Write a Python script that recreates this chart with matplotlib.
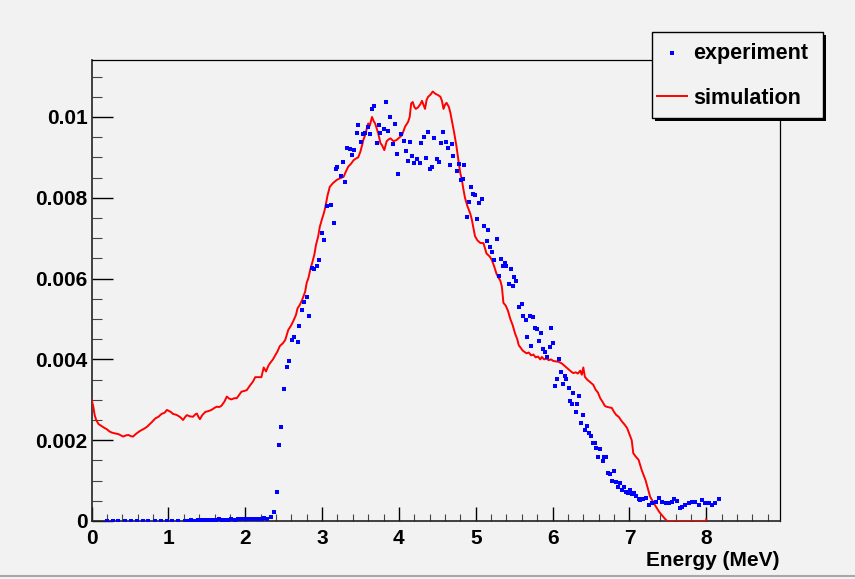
import matplotlib
matplotlib.use("Agg")
import matplotlib.pyplot as plt
from matplotlib.patches import Rectangle
from matplotlib.lines import Line2D
from matplotlib.ticker import MultipleLocator

plt.rcParams['font.family'] = ['Liberation Sans', 'DejaVu Sans']
plt.rcParams['font.weight'] = 'bold'

# Measured spectrum (normalised counts per bin)
exp_energy = [
    0.20, 0.28, 0.35, 0.43, 0.51, 0.59, 0.67, 0.74, 0.82, 0.90, 0.98, 1.05, 1.13, 1.21,
    1.26, 1.30, 1.34, 1.38, 1.42, 1.46, 1.50, 1.54, 1.58, 1.62, 1.66, 1.70, 1.74, 1.78,
    1.82, 1.86, 1.90, 1.94, 1.98, 2.02, 2.06, 2.10, 2.14, 2.18, 2.22, 2.25,
    2.28, 2.33, 2.37, 2.41, 2.44, 2.47, 2.51, 2.54, 2.57, 2.61, 2.64, 2.68, 2.70, 2.74,
    2.77, 2.81, 2.83, 2.87, 2.90, 2.94, 2.96, 3.00, 3.03, 3.07, 3.11, 3.15, 3.18, 3.20,
    3.24, 3.27, 3.30, 3.33, 3.36, 3.39, 3.42, 3.45, 3.47, 3.51, 3.53, 3.56, 3.60, 3.63,
    3.65, 3.68, 3.71, 3.74, 3.76, 3.81, 3.83, 3.86, 3.88, 3.92, 3.95, 3.97, 3.99, 4.03,
    4.06, 4.09, 4.12, 4.15, 4.17, 4.20, 4.24, 4.27, 4.29, 4.32, 4.35, 4.38, 4.41, 4.43,
    4.46, 4.49, 4.52, 4.55, 4.57, 4.61, 4.64, 4.66, 4.69, 4.71, 4.75, 4.78, 4.81, 4.83,
    4.85, 4.89, 4.91, 4.94, 4.97, 4.99, 5.02, 5.04, 5.08, 5.11, 5.14, 5.16, 5.19, 5.21,
    5.24, 5.28, 5.30, 5.33, 5.35, 5.38, 5.40, 5.43, 5.46, 5.48, 5.50, 5.53, 5.56, 5.60,
    5.62, 5.65, 5.67, 5.70, 5.72, 5.75, 5.77, 5.80, 5.82, 5.85, 5.87, 5.90, 5.93, 5.96,
    5.98, 6.00, 6.03, 6.06, 6.08, 6.11, 6.13, 6.16, 6.18, 6.21, 6.23, 6.25, 6.27, 6.30,
    6.32, 6.35, 6.37, 6.40, 6.42, 6.45, 6.47, 6.50, 6.53, 6.55, 6.57, 6.59, 6.62, 6.65,
    6.67, 6.70, 6.72, 6.75, 6.77, 6.80, 6.82, 6.85, 6.88, 6.90, 6.93, 6.95, 6.98, 7.01,
    7.03, 7.06, 7.09, 7.12, 7.14, 7.18, 7.22, 7.25, 7.29, 7.34, 7.38, 7.42, 7.47, 7.51,
    7.55, 7.58, 7.62, 7.66, 7.68, 7.73, 7.77, 7.81, 7.85, 7.90, 7.94, 7.98, 8.03, 8.07,
    8.12, 8.16,
]
exp_counts = [
    0.0, 0.0, 0.0, 0.0, 0.0, 0.0, 0.0, 0.0, 0.0, 0.0, 0.0, 0.0, 0.0, 0.0,
    0.00001, 0.00002, 0.00001, 0.00002, 0.00003, 0.00002, 0.00002, 0.00003, 0.00002,
    0.00003, 0.00004, 0.00003, 0.00002, 0.00003, 0.00004, 0.00003, 0.00004, 0.00005,
    0.00004, 0.00005, 0.00004, 0.00005, 0.00006, 0.00005, 0.00006, 0.00007,
    0.00004, 0.00010, 0.00022, 0.00072, 0.00188, 0.00233, 0.00326, 0.00382, 0.00396,
    0.00448, 0.00455, 0.00443, 0.00483, 0.00522, 0.00542, 0.00554, 0.00508, 0.00627,
    0.00624, 0.00632, 0.00646, 0.00714, 0.00695, 0.00780, 0.00782, 0.00737, 0.00872,
    0.00877, 0.00855, 0.00889, 0.00840, 0.00922, 0.00920, 0.00907, 0.00918, 0.00960,
    0.00980, 0.00937, 0.00957, 0.00960, 0.00974, 0.00957, 0.01019, 0.01028, 0.00935,
    0.00980, 0.00961, 0.00970, 0.01037, 0.00966, 0.01000, 0.00933, 0.00982, 0.00909,
    0.00860, 0.00958, 0.00940, 0.00916, 0.00892, 0.00938, 0.00904, 0.00885, 0.00896,
    0.00885, 0.00936, 0.00950, 0.00899, 0.00964, 0.00870, 0.00877, 0.00947, 0.00896,
    0.00888, 0.00936, 0.00962, 0.00937, 0.00924, 0.00880, 0.00933, 0.00904, 0.00867,
    0.00884, 0.00843, 0.00846, 0.00880, 0.00753, 0.00790, 0.00826, 0.00809, 0.00807,
    0.00748, 0.00787, 0.00797, 0.00731, 0.00692, 0.00720, 0.00678, 0.00667, 0.00646,
    0.00698, 0.00607, 0.00649, 0.00631, 0.00639, 0.00632, 0.00586, 0.00624, 0.00581,
    0.00603, 0.00595, 0.00530, 0.00538, 0.00507, 0.00497, 0.00455, 0.00507, 0.00433,
    0.00506, 0.00478, 0.00475, 0.00446, 0.00465, 0.00425, 0.00418, 0.00407, 0.00430,
    0.00477, 0.00441, 0.00335, 0.00351, 0.00402, 0.00370, 0.00340, 0.00360, 0.00351,
    0.00328, 0.00297, 0.00290, 0.00316, 0.00270, 0.00290, 0.00309, 0.00243, 0.00263,
    0.00224, 0.00236, 0.00218, 0.00210, 0.00192, 0.00192, 0.00180, 0.00158, 0.00177,
    0.00148, 0.00158, 0.00159, 0.00120, 0.00116, 0.00100, 0.00124, 0.00096, 0.00085,
    0.00093, 0.00076, 0.00085, 0.00073, 0.00070, 0.00077, 0.00066, 0.00069, 0.00062,
    0.00054, 0.00052, 0.00054, 0.00056, 0.00040, 0.00044, 0.00048, 0.00056, 0.00048,
    0.00044, 0.00044, 0.00048, 0.00054, 0.00050, 0.00031, 0.00035, 0.00040, 0.00044,
    0.00048, 0.00048, 0.00040, 0.00052, 0.00044, 0.00044, 0.00040, 0.00044, 0.00054,
]

# Simulated spectrum
sim_energy = [
    0.00, 0.02, 0.04, 0.06, 0.09, 0.13, 0.17, 0.20, 0.23, 0.26, 0.30, 0.35, 0.38, 0.41,
    0.45, 0.48, 0.51, 0.54, 0.58, 0.63, 0.68, 0.72, 0.78, 0.83, 0.87, 0.91, 0.95, 0.98,
    1.00, 1.03, 1.06, 1.10, 1.13, 1.16, 1.19, 1.22, 1.24, 1.28, 1.32, 1.35, 1.37, 1.39,
    1.41, 1.44, 1.48, 1.52, 1.56, 1.60, 1.63, 1.66, 1.69, 1.73, 1.76, 1.79, 1.82, 1.86,
    1.89, 1.92, 1.95, 1.99, 2.02, 2.06, 2.10, 2.13, 2.17, 2.21, 2.24, 2.27, 2.30, 2.32,
    2.36, 2.39, 2.42, 2.45, 2.49, 2.52, 2.56, 2.60, 2.63, 2.66, 2.68, 2.71, 2.74, 2.78,
    2.80, 2.82, 2.85, 2.87, 2.90, 2.92, 2.95, 2.97, 3.00, 3.02, 3.04, 3.07, 3.10, 3.14,
    3.19, 3.23, 3.28, 3.31, 3.34, 3.38, 3.41, 3.44, 3.47, 3.50, 3.52, 3.54, 3.56, 3.58,
    3.60, 3.62, 3.65, 3.67, 3.69, 3.71, 3.73, 3.76, 3.78, 3.81, 3.84, 3.87, 3.89, 3.93,
    3.97, 4.01, 4.04, 4.08, 4.12, 4.14, 4.16, 4.18, 4.20, 4.22, 4.25, 4.28, 4.30, 4.32,
    4.34, 4.36, 4.38, 4.41, 4.44, 4.47, 4.51, 4.54, 4.56, 4.58, 4.60, 4.62, 4.65, 4.67,
    4.69, 4.72, 4.75, 4.78, 4.80, 4.82, 4.84, 4.86, 4.89, 4.93, 4.95, 4.97, 4.99, 5.02,
    5.06, 5.10, 5.12, 5.14, 5.18, 5.21, 5.24, 5.27, 5.29, 5.32, 5.34, 5.36, 5.39, 5.42,
    5.45, 5.48, 5.51, 5.54, 5.56, 5.58, 5.61, 5.64, 5.66, 5.69, 5.72, 5.75, 5.78, 5.81,
    5.84, 5.86, 5.89, 5.92, 5.95, 5.98, 6.01, 6.05, 6.08, 6.12, 6.15, 6.18, 6.21, 6.24,
    6.27, 6.30, 6.33, 6.36, 6.38, 6.40, 6.42, 6.45, 6.48, 6.51, 6.53, 6.56, 6.59, 6.62,
    6.65, 6.68, 6.70, 6.74, 6.77, 6.80, 6.83, 6.86, 6.90, 6.94, 6.97, 7.00, 7.03, 7.05,
    7.08, 7.12, 7.16, 7.21, 7.24, 7.27, 7.30, 7.33, 7.36, 7.39, 7.42, 7.46, 7.49, 7.75,
    8.00, 8.00,
]
sim_counts = [
    0.00300, 0.00285, 0.00262, 0.00250, 0.00240, 0.00235, 0.00230, 0.00227, 0.00222,
    0.00219, 0.00217, 0.00215, 0.00212, 0.00209, 0.00212, 0.00213, 0.00210, 0.00209,
    0.00216, 0.00223, 0.00228, 0.00233, 0.00244, 0.00254, 0.00258, 0.00265, 0.00268,
    0.00275, 0.00273, 0.00270, 0.00265, 0.00263, 0.00260, 0.00256, 0.00250, 0.00258,
    0.00262, 0.00259, 0.00258, 0.00264, 0.00266, 0.00258, 0.00252, 0.00262, 0.00270,
    0.00272, 0.00275, 0.00280, 0.00283, 0.00282, 0.00285, 0.00296, 0.00308, 0.00303,
    0.00301, 0.00304, 0.00304, 0.00312, 0.00320, 0.00322, 0.00324, 0.00335, 0.00345,
    0.00356, 0.00356, 0.00356, 0.00380, 0.00370, 0.00384, 0.00390, 0.00400, 0.00410,
    0.00420, 0.00433, 0.00440, 0.00448, 0.00473, 0.00485, 0.00497, 0.00510, 0.00526,
    0.00535, 0.00547, 0.00568, 0.00590, 0.00600, 0.00625, 0.00638, 0.00660, 0.00683,
    0.00705, 0.00728, 0.00748, 0.00760, 0.00775, 0.00805, 0.00827, 0.00836, 0.00844,
    0.00848, 0.00852, 0.00865, 0.00877, 0.00885, 0.00893, 0.00897, 0.00900, 0.00915,
    0.00930, 0.00945, 0.00955, 0.00970, 0.00984, 0.00978, 0.01000, 0.00990, 0.00984,
    0.00972, 0.00960, 0.00935, 0.00930, 0.00918, 0.00940, 0.00945, 0.00947, 0.00940,
    0.00943, 0.00950, 0.00955, 0.00976, 0.00988, 0.01000, 0.01034, 0.01037, 0.01025,
    0.01020, 0.01024, 0.01032, 0.01040, 0.01030, 0.01020, 0.01042, 0.01050, 0.01055,
    0.01063, 0.01058, 0.01054, 0.01050, 0.01040, 0.01020, 0.01030, 0.01035, 0.01025,
    0.01010, 0.00990, 0.00960, 0.00926, 0.00885, 0.00860, 0.00844, 0.00820, 0.00800,
    0.00780, 0.00760, 0.00745, 0.00725, 0.00705, 0.00695, 0.00688, 0.00688, 0.00675,
    0.00662, 0.00655, 0.00646, 0.00630, 0.00612, 0.00604, 0.00595, 0.00580, 0.00540,
    0.00533, 0.00520, 0.00500, 0.00485, 0.00465, 0.00450, 0.00435, 0.00430, 0.00422,
    0.00418, 0.00415, 0.00417, 0.00410, 0.00412, 0.00405, 0.00407, 0.00400, 0.00406,
    0.00400, 0.00402, 0.00398, 0.00400, 0.00396, 0.00395, 0.00394, 0.00390, 0.00385,
    0.00380, 0.00375, 0.00370, 0.00366, 0.00368, 0.00365, 0.00372, 0.00362, 0.00380,
    0.00357, 0.00350, 0.00345, 0.00340, 0.00337, 0.00325, 0.00318, 0.00304, 0.00295,
    0.00285, 0.00283, 0.00281, 0.00280, 0.00270, 0.00262, 0.00258, 0.00247, 0.00238,
    0.00230, 0.00215, 0.00200, 0.00168, 0.00160, 0.00151, 0.00126, 0.00101, 0.00080,
    0.00060, 0.00050, 0.00040, 0.00031, 0.00022, 0.00015, 0.00006, 0.00000, 0.00000,
    0.00000, 0.00004,
]

x_ticks = [0, 1, 2, 3, 4, 5, 6, 7, 8]
y_ticks = [0, 0.002, 0.004, 0.006, 0.008, 0.01]
y_tick_labels = ["0", "0.002", "0.004", "0.006", "0.008", "0.01"]

bg = "#f2f2f2"
W, H = 855, 579
fig = plt.figure(figsize=(W / 100, H / 100), dpi=100, facecolor=bg)

ax_l, ax_r, ax_t, ax_b = 91.6, 780.0, 60.0, 521.0
ax = fig.add_axes([ax_l / W, 1 - ax_b / H, (ax_r - ax_l) / W, (ax_b - ax_t) / H])
ax.set_facecolor(bg)

ax.plot(sim_energy, sim_counts, color="#ff0000", lw=1.4, zorder=3)
ax.plot(exp_energy, exp_counts, ls="none", marker="s", ms=3.4,
        mfc="#0000ff", mec="#0000ff", mew=0, zorder=4)

ax.set_xlim(0, 8.96)
ax.set_ylim(0, 0.01141)

ax.set_xticks(x_ticks)
ax.set_yticks(y_ticks)
ax.set_yticklabels(y_tick_labels)
ax.xaxis.set_minor_locator(MultipleLocator(0.2))
ax.yaxis.set_minor_locator(MultipleLocator(0.0005))

ax.tick_params(axis="x", which="major", direction="in", length=9.9, width=1.0,
               labelsize=15, pad=6, top=False, color="black")
ax.tick_params(axis="x", which="minor", direction="in", length=5.0, width=0.8,
               top=False, color="#444444")
ax.tick_params(axis="y", which="major", direction="in", length=14.8, width=1.0,
               labelsize=15, pad=3, right=False, color="black")
ax.tick_params(axis="y", which="minor", direction="in", length=7.4, width=0.8,
               right=False, color="#444444")
for lab in ax.get_xticklabels() + ax.get_yticklabels():
    lab.set_fontweight("bold")

for side in ("left", "bottom"):
    ax.spines[side].set_color("#222222")
    ax.spines[side].set_linewidth(1.2)
for side in ("top", "right"):
    ax.spines[side].set_color("black")
    ax.spines[side].set_linewidth(0.9)

fig.text(779 / W, 1 - 560 / H, "Energy (MeV)", ha="right", va="center",
         fontsize=15, fontweight="bold")

# Legend box with a solid drop shadow
lx0, lx1, ly0, ly1 = 652, 823, 32, 118
sh = 3
fig.add_artist(Rectangle(((lx0 + sh) / W, 1 - (ly1 + sh) / H), (lx1 - lx0) / W,
                         (ly1 - ly0) / H, transform=fig.transFigure,
                         facecolor="black", edgecolor="none", zorder=10))
fig.add_artist(Rectangle((lx0 / W, 1 - ly1 / H), (lx1 - lx0) / W, (ly1 - ly0) / H,
                         transform=fig.transFigure, facecolor=bg,
                         edgecolor="black", lw=1.0, zorder=11))
fig.add_artist(Line2D([671.7 / W], [1 - 53.3 / H], transform=fig.transFigure,
                      ls="none", marker="s", ms=3.4, mfc="#0000ff", mec="#0000ff",
                      mew=0, zorder=12))
fig.add_artist(Line2D([657.3 / W, 686.7 / W], [1 - 96 / H, 1 - 96 / H],
                      transform=fig.transFigure, color="#ff0000", lw=1.4, zorder=12))
fig.text(693 / W, 1 - 53 / H, "experiment", ha="left", va="center",
         fontsize=15.5, fontweight="bold", zorder=13)
fig.text(693 / W, 1 - 99 / H, "simulation", ha="left", va="center",
         fontsize=15.5, fontweight="bold", zorder=13)

# Lower canvas border
fig.add_artist(Line2D([0, 1], [1 - 575.5 / H, 1 - 575.5 / H], transform=fig.transFigure,
                      color="#a8a8a8", lw=1.5, zorder=5))

fig.savefig("out.png", dpi=100, facecolor=bg)
